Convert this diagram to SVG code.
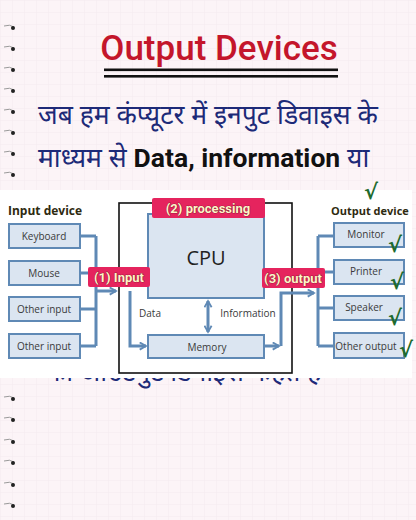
<svg xmlns="http://www.w3.org/2000/svg" width="416" height="520" viewBox="0 0 416 520">
<defs>
<style>
.hi{font-family:"Noto Sans Devanagari","Noto Sans","Lohit Devanagari",sans-serif;fill:#1d2a78;font-size:26.5px}
.box{fill:#dbe5f1;stroke:#5f89b5;stroke-width:2}
.lbl{font-family:"Open Sans","Noto Sans",sans-serif;font-size:10px;fill:#3a3a3a;text-anchor:middle}
.wire{fill:none;stroke:#5f89b5;stroke-width:3}
.tag{fill:#e5245e}
.tagt{font-family:"Roboto","Noto Sans",sans-serif;font-weight:700;font-size:13px;fill:#fff4c8;stroke:#5a1020;stroke-width:0.6;paint-order:stroke;text-anchor:middle}
.chk{font-family:"DejaVu Sans",sans-serif;font-weight:bold;fill:#1e6b2e;font-size:21px}
.ring{fill:#222}
</style>
<marker id="ah" viewBox="0 0 10 10" refX="8" refY="5" markerWidth="3" markerHeight="3" orient="auto-start-reverse">
<path d="M1,1 L8,5 L1,9" fill="none" stroke="#5f89b5" stroke-width="2"/>
</marker>
<pattern id="grid" width="12" height="12" patternUnits="userSpaceOnUse">
<path d="M12,0 L0,0 0,12" fill="none" stroke="#efe4ea" stroke-width="0.6"/>
</pattern>
<clipPath id="botclip"><rect x="0" y="378" width="416" height="30"/></clipPath>
</defs>
<rect width="416" height="520" fill="#fcf4f7"/>
<rect width="416" height="520" fill="url(#grid)"/>
<g id="rings">
<g fill="none" stroke="#9a9a9a" stroke-width="1">
<path d="M4,26 q6,-2 10,1"/><path d="M4,47 q6,-2 10,1"/><path d="M4,68 q6,-2 10,1"/><path d="M4,89 q6,-2 10,1"/><path d="M4,110 q6,-2 10,1"/><path d="M4,131 q6,-2 10,1"/><path d="M4,152 q6,-2 10,1"/><path d="M4,173 q6,-2 10,1"/>
<path d="M4,397 q6,-2 10,1"/><path d="M4,418 q6,-2 10,1"/><path d="M4,440 q6,-2 10,1"/><path d="M4,461 q6,-2 10,1"/><path d="M4,483 q6,-2 10,1"/><path d="M4,504 q6,-2 10,1"/>
</g>
<circle class="ring" cx="13" cy="28" r="2"/><circle class="ring" cx="13" cy="49" r="2"/><circle class="ring" cx="13" cy="70" r="2"/><circle class="ring" cx="13" cy="91" r="2"/><circle class="ring" cx="13" cy="112" r="2"/><circle class="ring" cx="13" cy="133" r="2"/><circle class="ring" cx="13" cy="154" r="2"/><circle class="ring" cx="13" cy="175" r="2"/>
<circle class="ring" cx="13" cy="399" r="2"/><circle class="ring" cx="13" cy="420" r="2"/><circle class="ring" cx="13" cy="442" r="2"/><circle class="ring" cx="13" cy="463" r="2"/><circle class="ring" cx="13" cy="485" r="2"/><circle class="ring" cx="13" cy="506" r="2"/>
</g>
<g id="title">
<text x="219" y="60" text-anchor="middle" font-family="Roboto,'Noto Sans',sans-serif" font-weight="500" font-size="35" fill="#c4162b">Output Devices</text>
<rect x="104" y="68.5" width="234" height="2.6" fill="#111"/>
<rect x="104" y="75" width="234" height="2.6" fill="#111"/>
</g>
<g id="body-text">
<text class="hi" x="38" y="124">जब हम कंप्यूटर में इनपुट डिवाइस के</text>
<text class="hi" x="38" y="167">माध्यम से <tspan font-family="Roboto,'Noto Sans',sans-serif" font-weight="700" fill="#111">Data, information</tspan> या</text>
<text class="hi" x="46" y="381" clip-path="url(#botclip)">को आउटपुट डिवाइस कहते हैं</text>
</g>
<rect x="0" y="190" width="412" height="188" fill="#ffffff"/>
<rect id="frame" x="119" y="203" width="173" height="170" fill="none" stroke="#111" stroke-width="1.6"/>
<g id="connectors">
<path class="wire" d="M80,236 H96 M80,273 H96 M80,309 H96 M80,346 H96 M96,236 V346"/>
<path class="wire" d="M96,291 H116" marker-end="url(#ah)"/>
<path class="wire" d="M130,291 V346 H146" marker-end="url(#ah)"/>
<path class="wire" d="M208,301 V332" marker-start="url(#ah)" marker-end="url(#ah)"/>
<path class="wire" d="M264,346 H279" marker-end="url(#ah)"/>
<path class="wire" d="M281,346 V293 H314" marker-end="url(#ah)"/>
<path class="wire" d="M318,236 V346 M318,236 H334 M318,272 H334 M318,308 H334 M318,346 H334"/>
</g>
<g id="labels-inner">
<text class="lbl" x="150" y="317">Data</text>
<text class="lbl" x="248" y="317">Information</text>
</g>
<text id="input-heading" x="8" y="215" font-family="'Open Sans','Noto Sans',sans-serif" font-weight="700" font-size="12" fill="#2e2a10">Input device</text>
<text id="output-heading" x="331" y="215" font-family="'Open Sans','Noto Sans',sans-serif" font-weight="700" font-size="11" fill="#2e2a10">Output device</text>
<g id="keyboard"><rect class="box" x="9" y="224" width="71" height="24"/><text class="lbl" x="44" y="240">Keyboard</text></g>
<g id="mouse"><rect class="box" x="9" y="261" width="71" height="24"/><text class="lbl" x="44" y="277">Mouse</text></g>
<g id="other-input-1"><rect class="box" x="9" y="297" width="71" height="24"/><text class="lbl" x="44" y="313">Other input</text></g>
<g id="other-input-2"><rect class="box" x="9" y="334" width="71" height="24"/><text class="lbl" x="44" y="350">Other input</text></g>
<g id="cpu"><rect class="box" x="148" y="214" width="116" height="84"/><text x="206" y="265" text-anchor="middle" font-family="'Open Sans','Noto Sans',sans-serif" font-size="20" fill="#222">CPU</text></g>
<g id="memory"><rect class="box" x="148" y="335" width="116" height="23"/><text class="lbl" x="207" y="351" font-size="11">Memory</text></g>
<g id="monitor"><rect class="box" x="334" y="223" width="70" height="24"/><text class="lbl" x="366" y="238">Monitor</text></g>
<g id="printer"><rect class="box" x="334" y="260" width="70" height="24"/><text class="lbl" x="366" y="275">Printer</text></g>
<g id="speaker"><rect class="box" x="334" y="296" width="70" height="24"/><text class="lbl" x="364" y="311">Speaker</text></g>
<g id="other-output"><rect class="box" x="334" y="333" width="70" height="25"/><text class="lbl" x="366" y="350" font-size="9.5">Other output</text></g>
<g id="tag-processing"><rect class="tag" x="152" y="198" width="113" height="20" rx="2"/><text class="tagt" x="208" y="213">(2) processing</text></g>
<g id="tag-input"><rect class="tag" x="88" y="267" width="62" height="20" rx="2"/><text class="tagt" x="119" y="282">(1) Input</text></g>
<g id="tag-output"><rect class="tag" x="262" y="268" width="63" height="20" rx="2"/><text class="tagt" x="293" y="283">(3) output</text></g>
<g id="checks">
<text class="chk" x="364" y="199">√</text>
<text class="chk" x="388" y="252">√</text>
<text class="chk" x="390" y="289">√</text>
<text class="chk" x="388" y="325">√</text>
<text class="chk" x="399" y="357">√</text>
</g>
</svg>
